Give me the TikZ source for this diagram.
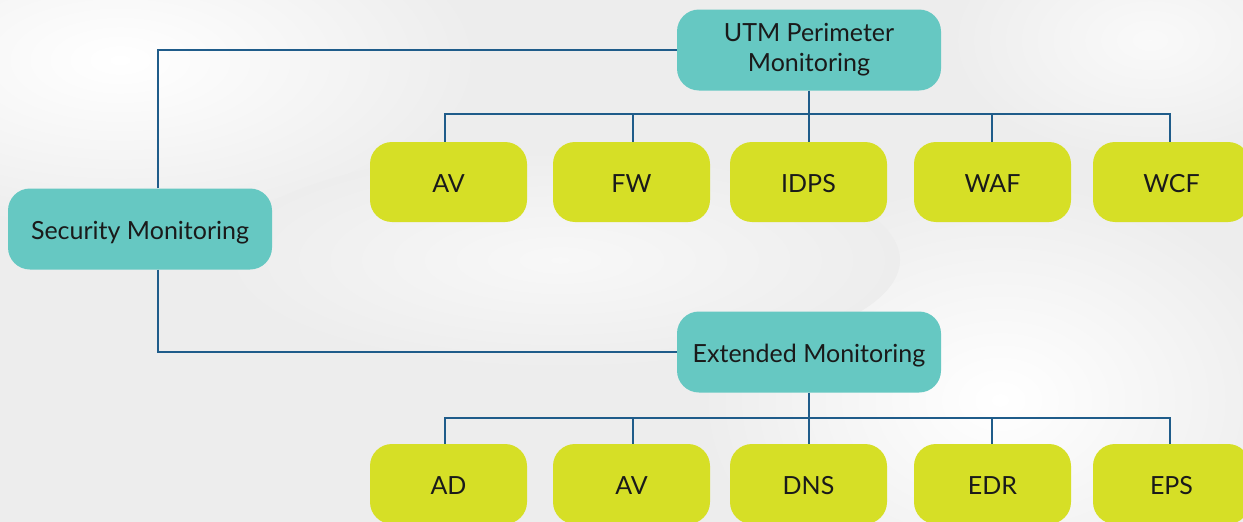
\documentclass[tikz,border=0pt]{standalone}
\usepackage{fontspec}
\setmainfont{Lato}
\definecolor{teal1}{HTML}{66C8C2}
\definecolor{lime1}{HTML}{D6DF26}
\definecolor{wire}{HTML}{1F5C8A}
\definecolor{bg}{HTML}{EDEDED}
\definecolor{ink}{HTML}{1A1A1A}
\begin{document}
\begin{tikzpicture}[x=1pt,y=-1pt,
  parentbox/.style={fill=teal1, rounded corners=22pt, minimum width=264pt, minimum height=81pt, inner sep=0pt, text=ink, font=\fontsize{25}{30}\selectfont, align=center},
  oneline/.style={text height=21pt, text depth=0pt},
  leafbox/.style={fill=lime1, rounded corners=22pt, minimum width=157pt, minimum height=80pt, inner sep=0pt, text=ink, font=\fontsize{25}{30}\selectfont, oneline},
  link/.style={draw=wire, line width=2.6pt}]
\useasboundingbox (0,0) rectangle (1243,522);
\clip (0,0) rectangle (1243,522);
\fill[bg] (0,0) rectangle (1243,522);
% soft background tones
\shade[inner color=white, outer color=bg] (120,60) ellipse (360pt and 170pt);
\shade[inner color=white, outer color=bg] (1000,400) ellipse (300pt and 220pt);
\shade[inner color=white!60!bg, outer color=bg] (560,260) ellipse (340pt and 110pt);
\shade[inner color=white!70!bg, outer color=bg] (1150,40) ellipse (200pt and 120pt);

\node[parentbox, oneline] (sec) at (140,229) {Security Monitoring};
\node[parentbox] (utm) at (809,50) {UTM Perimeter\\Monitoring};
\node[parentbox, oneline] (ext) at (809,352) {Extended Monitoring};

\node[leafbox] (t1) at (448.5,182) {AV};
\node[leafbox] (t2) at (631.5,182) {FW};
\node[leafbox] (t3) at (808.5,182) {IDPS};
\node[leafbox] (t4) at (992.5,182) {WAF};
\node[leafbox] (t5) at (1171.5,182) {WCF};

\node[leafbox] (b1) at (448.5,484) {AD};
\node[leafbox] (b2) at (631.5,484) {AV};
\node[leafbox] (b3) at (808.5,484) {DNS};
\node[leafbox] (b4) at (992.5,484) {EDR};
\node[leafbox] (b5) at (1171.5,484) {EPS};

\draw[link] ([xshift=18pt]sec.north) |- (utm.west);
\draw[link] ([xshift=18pt]sec.south) |- (ext.west);
\coordinate (tb) at (809,114);
\coordinate (bb) at (809,418);
\draw[link] (utm.south) -- (tb);
\draw[link] (ext.south) -- (bb);
\foreach \n/\x in {t1/445,t2/633,t3/809,t4/992,t5/1170}{
  \draw[link] (tb) -| (\x,114) -- (\x,114 |- \n.north);
}
\foreach \n/\x in {b1/445,b2/633,b3/809,b4/992,b5/1170}{
  \draw[link] (bb) -| (\x,418) -- (\x,418 |- \n.north);
}
\end{tikzpicture}
\end{document}
